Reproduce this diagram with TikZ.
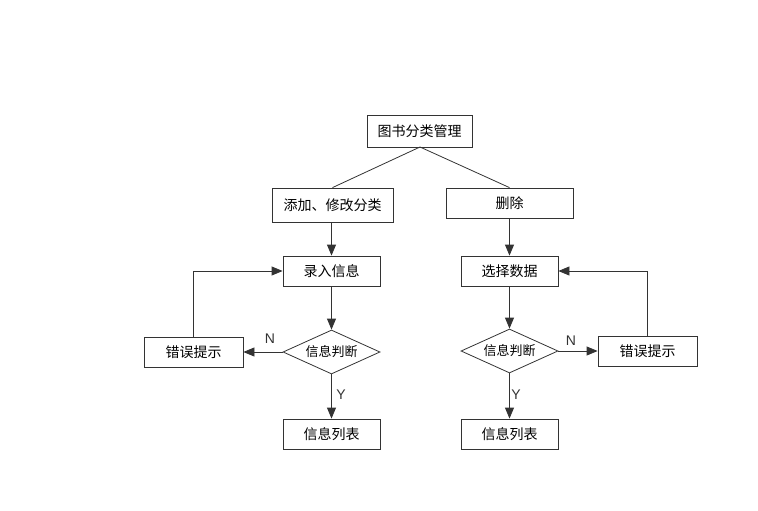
\documentclass[tikz,border=0pt]{standalone}
\usepackage{fontspec}
\setmainfont{Liberation Sans}
\newfontfamily\cjk{Noto Sans CJK SC}
\usetikzlibrary{arrows.meta,shapes.geometric}
\definecolor{ln}{HTML}{333333}
\begin{document}
\begin{tikzpicture}[x=1pt,y=-1pt,
  box/.style={draw=ln,line width=0.8pt,fill=white,minimum height=30pt,inner sep=0pt,font=\cjk\fontsize{14}{14}\selectfont},
  dia/.style={draw=ln,line width=0.8pt,diamond,aspect=2.2,inner sep=0pt,minimum width=97pt,minimum height=44pt,font=\cjk\fontsize{13}{13}\selectfont},
  conn/.style={draw=ln,line width=0.8pt},
  arr/.style={conn,-{Triangle[length=11pt,width=9pt]}},
  lab/.style={font=\fontsize{14}{14}\selectfont,text=ln}]
\useasboundingbox (0,0) rectangle (758,511);
\node[box,minimum width=105pt,minimum height=32pt] (root) at (419.5,131) {图书分类管理};
\node[box,minimum width=121pt,minimum height=34pt] (add) at (332.5,205) {添加、修改分类};
\node[box,minimum width=127pt] (del) at (509.5,203) {删除};
\node[box,minimum width=97pt] (input) at (331.5,271) {录入信息};
\node[dia] (j1) at (331.5,352) {信息判断};
\node[box,minimum width=99pt] (e1) at (193.5,352) {错误提示};
\node[box,minimum width=97pt] (l1) at (331.5,434) {信息列表};
\node[box,minimum width=97pt] (sel) at (509.5,271) {选择数据};
\node[dia] (j2) at (509.5,351) {信息判断};
\node[box,minimum width=99pt] (e2) at (647.5,351) {错误提示};
\node[box,minimum width=97pt] (l2) at (509.5,434) {信息列表};
\coordinate (rb) at (420,147);
\draw[conn] (rb) -- (add.north);
\draw[conn] (rb) -- (del.north);
\draw[arr] (input.north |- add.south) -- (input.north);
\draw[arr] (input.south) -- (j1.north);
\draw[arr] (j1.west) -- (e1.east);
\draw[arr] (j1.south) -- (l1.north);
\draw[arr] (e1.north) |- (input.west);
\draw[arr] (sel.north |- del.south) -- (sel.north);
\draw[arr] (sel.south) -- (j2.north);
\draw[arr] (j2.east) -- (e2.west);
\draw[arr] (j2.south) -- (l2.north);
\draw[arr] (e2.north) |- (sel.east);
\node[lab] (n1) at (270,339) {N};
\node[lab] (y1) at (341,395) {Y};
\node[lab] (n2) at (571,341) {N};
\node[lab] (y2) at (516,395) {Y};
\end{tikzpicture}
\end{document}
